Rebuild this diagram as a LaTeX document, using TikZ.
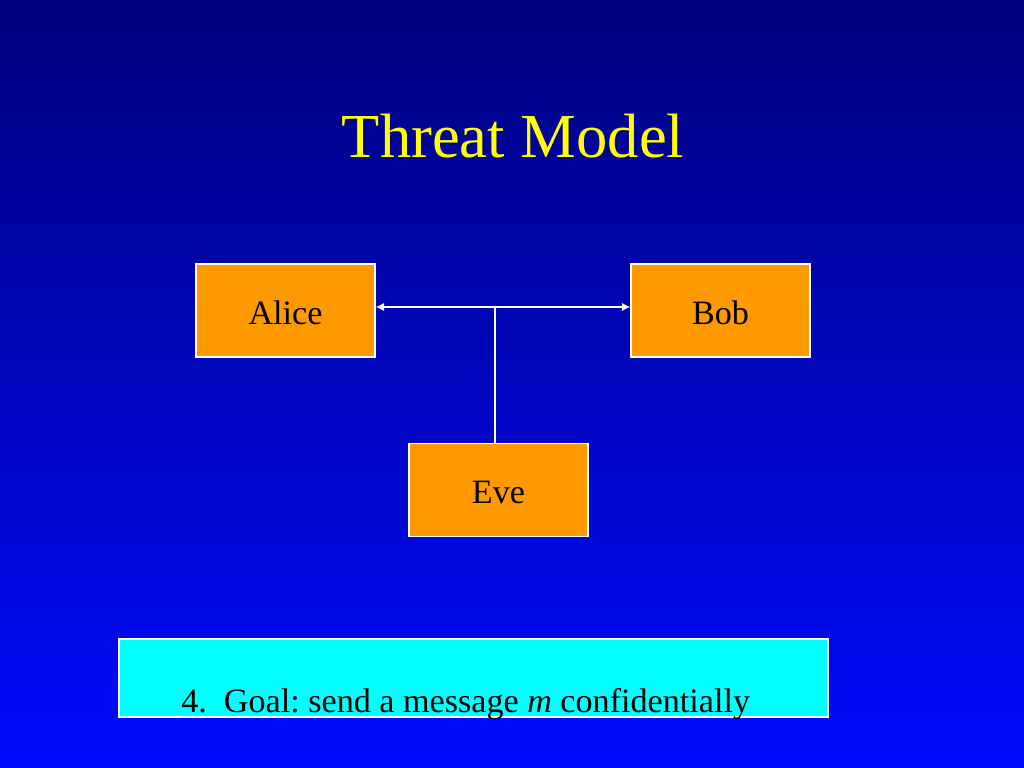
\documentclass[tikz,border=0pt]{standalone}
\usepackage{fontspec}
\setmainfont{Liberation Serif}
\usetikzlibrary{arrows.meta, positioning, calc}
\definecolor{slideTop}{RGB}{0, 0, 125}
\definecolor{slideBottom}{RGB}{0, 12, 255}
\definecolor{titleYellow}{RGB}{255, 255, 0}
\definecolor{partyOrange}{RGB}{255, 153, 0}
\definecolor{goalCyan}{RGB}{0, 255, 255}

\begin{document}
\frenchspacing
\begin{tikzpicture}[
    x=0.7031pt, y=-0.7031pt,
    party/.style={
        draw=white, fill=partyOrange, line width=1pt,
        minimum width=179*0.7031pt, minimum height=93*0.7031pt,
        inner sep=0pt, text height=19pt, text depth=0pt,
        font=\fontsize{24}{28}\selectfont, text=black
    },
    link/.style={white, line width=0.9pt},
    tip/.style={Triangle[length=6pt,width=6pt]},
    title-style/.style={text=titleYellow, font=\fontsize{44}{52}\selectfont}
]
    % Slide: 1024 x 768 px, 1 px = 0.7031 pt.
    \useasboundingbox (0,0) rectangle (1024,768);
    \shade[top color=slideTop, bottom color=slideBottom] (0,0) rectangle (1024,768);

    % Title.
    \node[title-style, anchor=base] (title) at (513,157) {Threat Model};

    % Parties.
    \node[party] (alice) at (285.5,310.5) {Alice};
    \node[party] (bob) at (720.5,310.5) {Bob};
    \node[party] (eve) at (498.5,490) {Eve};

    % Channel between Alice and Bob, tapped by Eve.
    \coordinate (tap) at (495,307);
    \draw[link, {Latex[length=6pt,width=6pt]}-{Latex[length=6pt,width=6pt]}]
        (alice.east |- tap) -- (bob.west |- tap);
    \draw[link] (tap) -- (tap |- eve.north);

    % Goal box.
    \node[draw=white, fill=goalCyan, line width=0.8pt, inner sep=0pt,
          minimum width=709*0.7031pt, minimum height=78*0.7031pt] (goal) at (473.5,678) {};
    \node[anchor=base west, inner sep=0pt, font=\fontsize{24}{28}\selectfont] (goaltext) at (181,712)
        {4.\ \ Goal: send a message \textit{m} confidentially};
\end{tikzpicture}
\end{document}
